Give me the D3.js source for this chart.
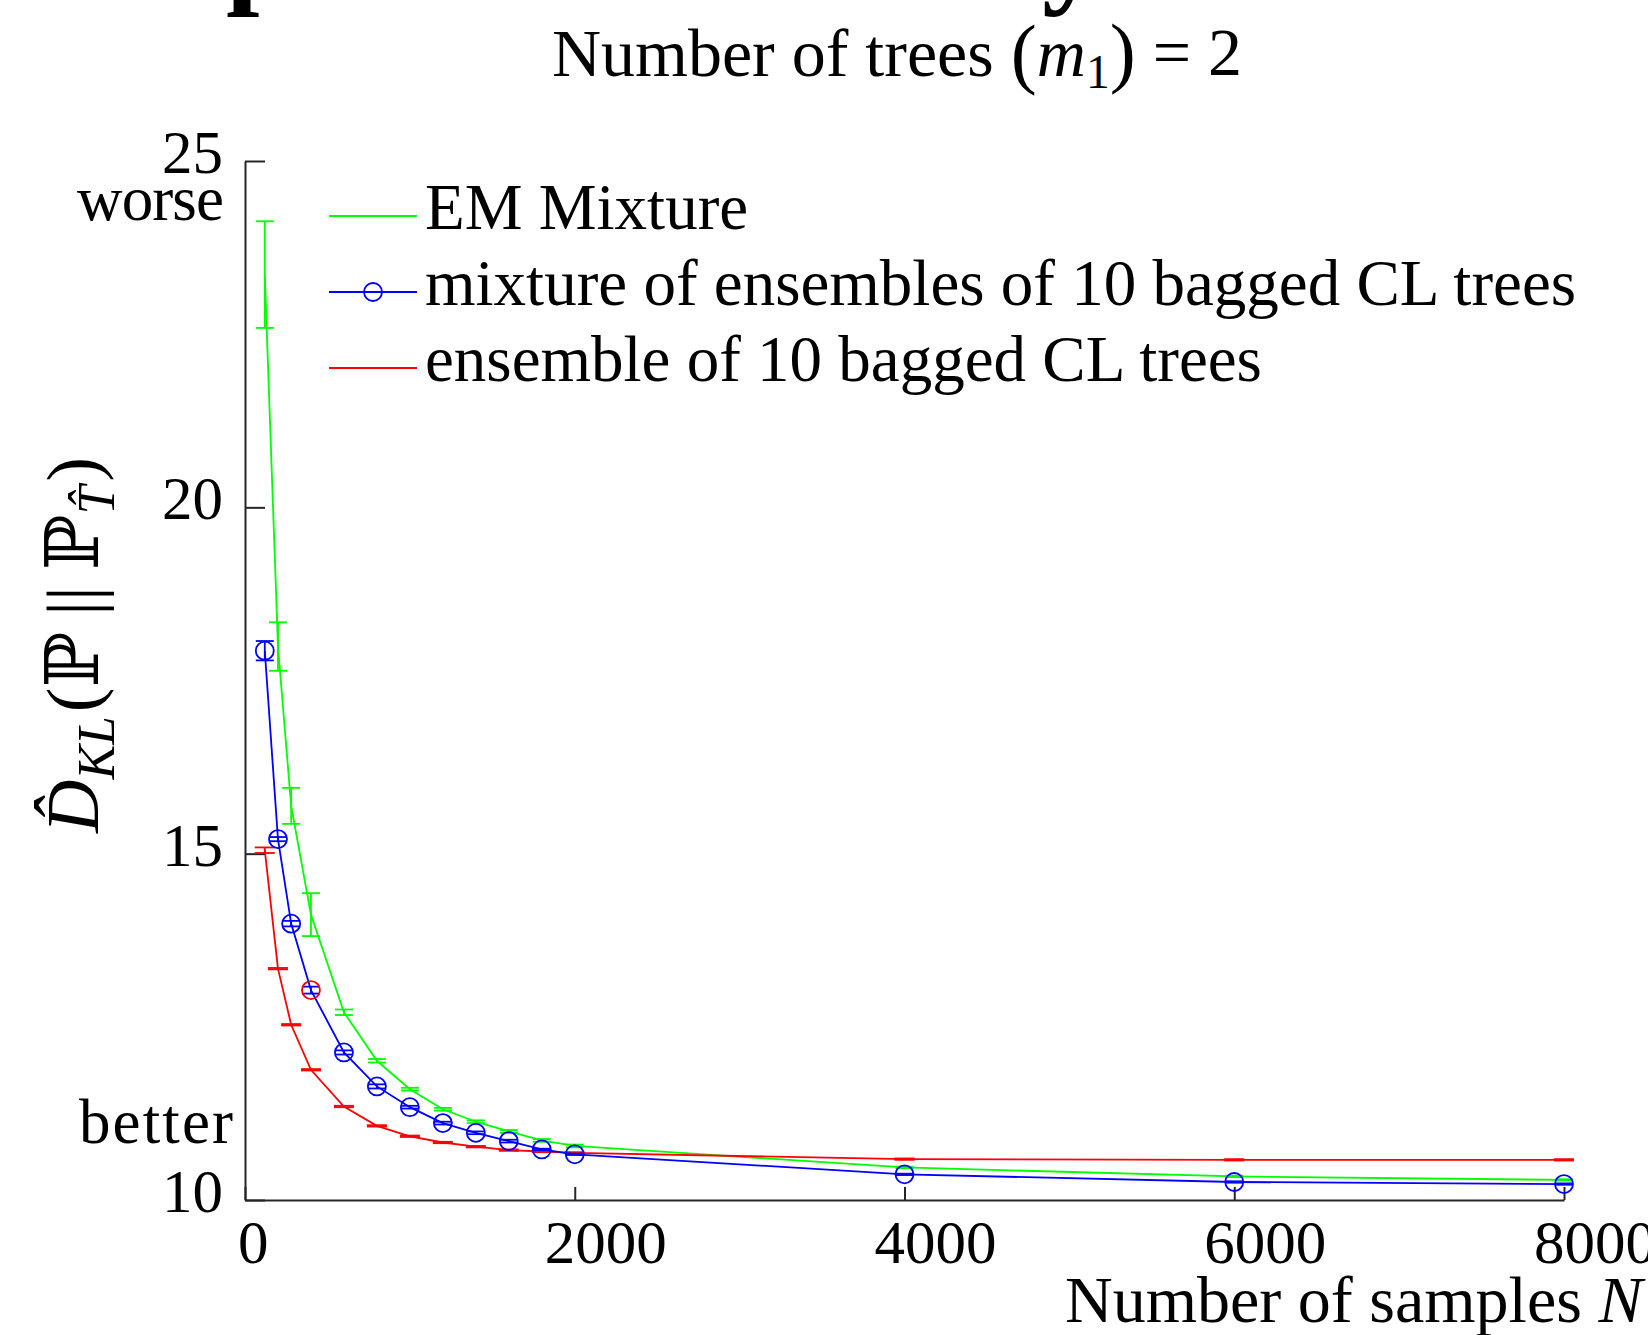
<!DOCTYPE html>
<html lang="en">
<head>
<meta charset="UTF-8">
<title>KL divergence vs number of samples</title>
<script src="https://d3js.org/d3.v7.min.js"></script>
<style>
  body { margin: 0; background: #fff; }
  svg { display: block; font-family: "Liberation Serif", "DejaVu Serif", serif; }
</style>
</head>
<body>

<svg width="1648" height="1335"></svg>

<script>
    // Values
    const sampleSizes = [120, 200, 280, 400, 600, 800, 1000, 1200, 1400, 1600, 1800, 2000, 4000, 6000, 8000];

    const emMean  = [23.36, 17.99, 15.69, 14.12, 12.71, 12.01, 11.60, 11.31, 11.13, 10.99, 10.86, 10.78, 10.47, 10.34, 10.29];
    const emErr   = [0.77, 0.35, 0.26, 0.31, 0.04, 0.025, 0.02, 0.02, 0.02, 0.02, 0.02, 0.02, 0.01, 0.01, 0.01];

    const mixMean = [17.93, 15.21, 13.99, 13.03, 12.13, 11.64, 11.34, 11.11, 10.97, 10.85, 10.73, 10.66, 10.37, 10.26, 10.23];
    const mixErr  = [0.14, 0.03, 0.04, 0.05, 0.03, 0.03, 0.02, 0.02, 0.02, 0.02, 0.01, 0.01, 0.01, 0.01, 0.01];

    const ensMean = [15.05, 13.34, 12.53, 11.88, 11.35, 11.07, 10.92, 10.83, 10.77, 10.72, 10.70, 10.68, 10.59, 10.58, 10.58];
    const ensErr  = [0.04, 0.01, 0.01, 0.01, 0.01, 0.01, 0.01, 0.01, 0.01, 0.01, 0.01, 0.01, 0.01, 0.01, 0.01];

    const xTicks = [0, 2000, 4000, 6000, 8000];
    const yTicks = [10, 15, 20, 25];
    const legendLabels = ["EM Mixture", "mixture of ensembles of 10 bagged CL trees", "ensemble of 10 bagged CL trees"];

    // the mixture marker at this N is drawn in red in the original
    const redMarkerSample = 400;

    const width = 1648, height = 1335;
    const axisColor = "#262626";

    const svg = d3.select("svg");
    svg.append("rect").attr("width", width).attr("height", height).attr("fill", "white");

    const x = d3.scaleLinear().domain([0, 8000]).range([245, 1564]);
    const y = d3.scaleLinear().domain([10, 25]).range([1200, 161]);

    // Descenders of a big bold title cut off by the top edge
    svg.append("text").attr("x", 226).attr("y", -9)
        .attr("font-size", 120).attr("font-weight", "bold").text("p");
    svg.append("text").attr("x", 1042).attr("y", -9)
        .attr("font-size", 120).attr("font-weight", "bold").text("y");

    // Subtitle
    const title = svg.append("text")
        .attr("x", 897).attr("y", 76)
        .attr("text-anchor", "middle")
        .attr("font-size", 68);
    title.append("tspan").text("Number of trees ");
    title.append("tspan").attr("font-size", "1.15em").attr("dy", "0.04em").text("(");
    title.append("tspan").attr("font-style", "italic").attr("dy", "-0.04em").text("m");
    title.append("tspan").attr("font-size", "0.7em").attr("dy", "0.25em").text("1");
    title.append("tspan").attr("font-size", "1.15em").attr("dy", "-0.135em").text(")");
    title.append("tspan").attr("dy", "-0.04em").text(" = 2");

    // X axis
    const gx = svg.append("g")
        .attr("transform", `translate(0, ${y(10)})`)
        .call(d3.axisBottom(x).tickValues(xTicks).tickSize(-13).tickSizeOuter(0).tickFormat(d3.format("d")))
        .attr("font-family", null)
        .attr("font-size", null);

    gx.selectAll("text")
        .attr("font-size", 61)
        .attr("fill", "black")
        .attr("y", 63)
        .attr("dy", null)
        .attr("text-anchor", "start")
        .attr("x", function () { return -0.25 * this.getBBox().width; });

    // Y axis
    const gy = svg.append("g")
        .attr("transform", `translate(${x(0)}, 0)`)
        .call(d3.axisLeft(y).tickValues(yTicks).tickSize(-20).tickSizeOuter(0))
        .attr("font-family", null)
        .attr("font-size", null);

    gy.selectAll("text")
        .attr("font-size", 61)
        .attr("fill", "black")
        .attr("x", -22)
        .attr("y", 11.5)
        .attr("dy", null);

    svg.selectAll(".domain, .tick line")
        .attr("stroke", axisColor)
        .attr("stroke-width", 2);

    // worse / better hints
    svg.append("text").attr("x", 224).attr("y", 220)
        .attr("text-anchor", "end").attr("font-size", 63)
        .attr("textLength", 147).attr("lengthAdjust", "spacing").text("worse");
    svg.append("text").attr("x", 233).attr("y", 1143)
        .attr("text-anchor", "end").attr("font-size", 63)
        .attr("textLength", 154).attr("lengthAdjust", "spacing").text("better");

    // X label
    const xLabel = svg.append("text")
        .attr("x", 1065).attr("y", 1322)
        .attr("font-size", 66);
    xLabel.append("tspan").text("Number of samples ");
    xLabel.append("tspan").attr("font-style", "italic").text("N");

    // Y label
    const yLabel = svg.append("text")
        .attr("transform", "translate(98, 645) rotate(-90)")
        .attr("text-anchor", "middle")
        .attr("font-size", 74);
    yLabel.append("tspan").attr("font-style", "italic").text("D\u0302");
    yLabel.append("tspan").attr("font-style", "italic").attr("font-size", "0.7em").attr("dy", "0.3em").text("KL");
    yLabel.append("tspan").attr("dy", "-0.21em").attr("dx", 4).text("(\u2119");
    yLabel.append("tspan").attr("dx", 16).text("||");
    yLabel.append("tspan").attr("dx", 16).text("\u2119");
    yLabel.append("tspan").attr("font-style", "italic").attr("font-size", "0.7em").attr("dy", "0.3em").text("T\u0302");
    yLabel.append("tspan").attr("dy", "-0.21em").attr("dx", 4).text(")");

    // Series
    const series = [
        { label: legendLabels[0], mean: emMean,  err: emErr,  color: "#00ff00", marker: false, cap: 9 },
        { label: legendLabels[1], mean: mixMean, err: mixErr, color: "#0000ff", marker: true,  cap: 9 },
        { label: legendLabels[2], mean: ensMean, err: ensErr, color: "#ff0000", marker: false, cap: 10 }
    ];

    const line = d3.line()
        .x((d, i) => x(sampleSizes[i]))
        .y(d => y(d));

    const plot = svg.append("g");

    [series[0], series[2], series[1]].forEach(s => {
        plot.append("path")
            .datum(s.mean)
            .attr("d", line)
            .attr("fill", "none")
            .attr("stroke", s.color)
            .attr("stroke-width", 1.8);

        const bars = plot.append("g")
            .attr("stroke", s.color)
            .attr("stroke-width", 1.8)
            .selectAll("g")
            .data(s.mean.map((m, i) => ({ n: sampleSizes[i], lo: m - s.err[i], hi: m + s.err[i] })))
            .join("g");

        bars.append("line")
            .attr("x1", d => x(d.n)).attr("x2", d => x(d.n))
            .attr("y1", d => y(d.lo)).attr("y2", d => y(d.hi));
        bars.append("line")
            .attr("x1", d => x(d.n) - s.cap).attr("x2", d => x(d.n) + s.cap)
            .attr("y1", d => y(d.lo)).attr("y2", d => y(d.lo));
        bars.append("line")
            .attr("x1", d => x(d.n) - s.cap).attr("x2", d => x(d.n) + s.cap)
            .attr("y1", d => y(d.hi)).attr("y2", d => y(d.hi));

        if (s.marker) {
            plot.selectAll(null)
                .data(s.mean)
                .join("circle")
                .attr("cx", (d, i) => x(sampleSizes[i]))
                .attr("cy", d => y(d))
                .attr("r", 9)
                .attr("fill", "none")
                .attr("stroke", (d, i) => sampleSizes[i] === redMarkerSample ? "#ff0000" : s.color)
                .attr("stroke-width", 1.8);
        }
    });

    // Legend
    const legend = svg.append("g")
        .selectAll("g")
        .data(series)
        .join("g")
        .attr("transform", (d, i) => `translate(329, ${216 + i * 76})`);

    legend.append("line")
        .attr("x1", 0).attr("x2", 88)
        .attr("stroke", d => d.color)
        .attr("stroke-width", 1.8);

    legend.filter(d => d.marker)
        .append("circle")
        .attr("cx", 44).attr("r", 9)
        .attr("fill", "none")
        .attr("stroke", d => d.color)
        .attr("stroke-width", 1.8);

    legend.append("text")
        .attr("x", 96).attr("y", 13)
        .attr("font-size", 65)
        .text(d => d.label);
</script>

</body>
</html>
